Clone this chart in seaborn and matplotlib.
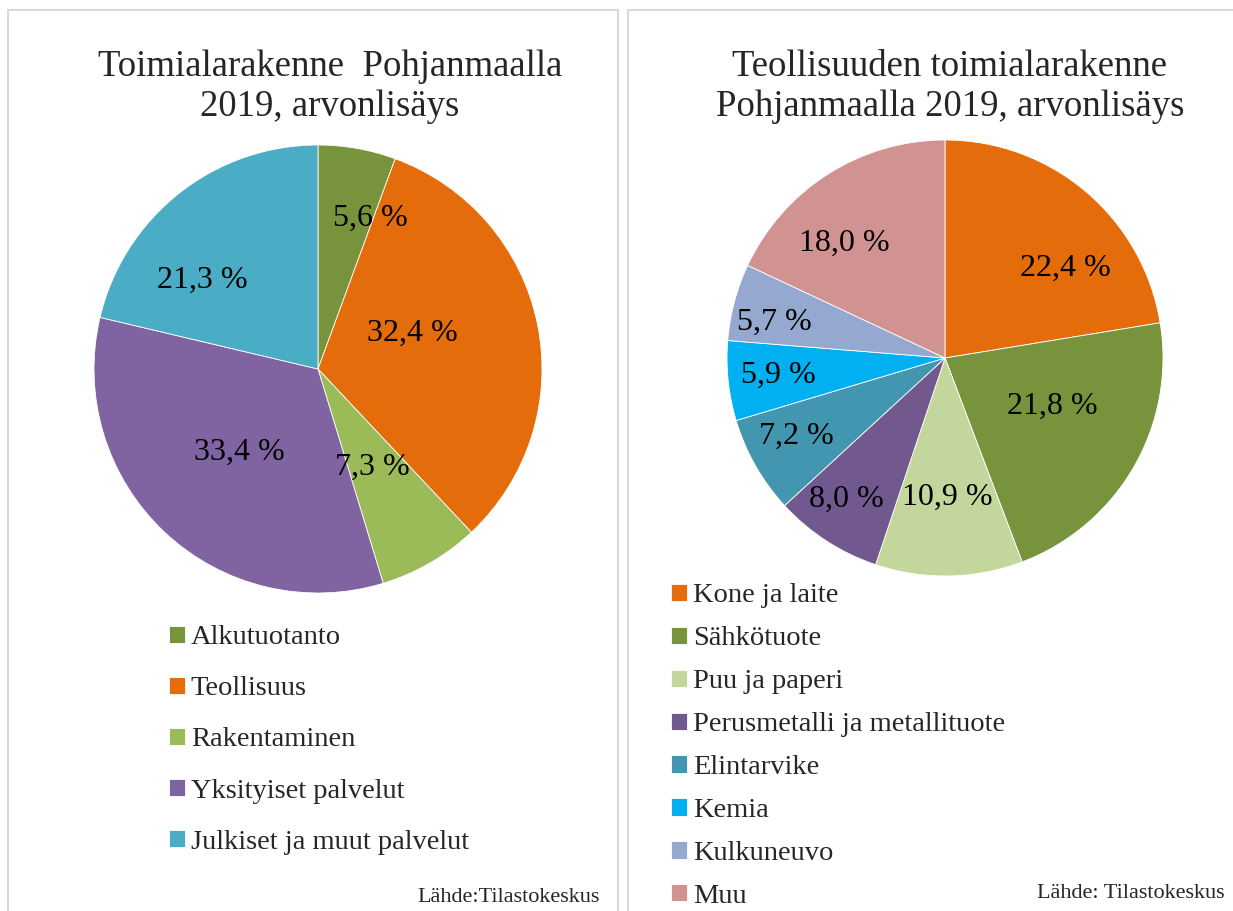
import matplotlib
matplotlib.use("Agg")
import matplotlib.pyplot as plt
import seaborn as sns
import numpy as np
from matplotlib.patches import Rectangle

# Data
left_title = "Toimialarakenne  Pohjanmaalla\n2019, arvonlisäys"
left_labels = ["Alkutuotanto", "Teollisuus", "Rakentaminen",
               "Yksityiset palvelut", "Julkiset ja muut palvelut"]
left_values = [5.6, 32.4, 7.3, 33.4, 21.3]
left_colors = ["#77933C", "#E46C0A", "#9BBB59", "#8064A2", "#4BACC6"]
left_label_r = [0.71, 0.45, 0.50, 0.51, 0.65]
left_label_shift = [-9, 9, -1, 0, 14]

right_title = "Teollisuuden toimialarakenne\nPohjanmaalla 2019, arvonlisäys"
right_labels = ["Kone ja laite", "Sähkötuote", "Puu ja paperi",
                "Perusmetalli ja metallituote", "Elintarvike", "Kemia",
                "Kulkuneuvo", "Muu"]
right_values = [22.4, 21.8, 10.9, 8.0, 7.2, 5.9, 5.7, 18.0]
right_colors = ["#E46C0A", "#77933C", "#C3D69B", "#71588F", "#4396B0",
                "#00B0F0", "#95A9D0", "#D19292"]
right_label_r = [0.69, 0.54, 0.64, 0.79, 0.77, 0.77, 0.80, 0.70]
right_label_shift = [-13, 6, 0, -2, -2, 0, 3, 9]

source = ["Lähde:Tilastokeskus", "Lähde: Tilastokeskus"]

sns.set_theme(style="white")
plt.rcParams['font.family'] = ['Liberation Serif', 'DejaVu Serif']

W, H = 1233, 911
fig = plt.figure(figsize=(W / 100, H / 100), dpi=100)


def px_axes(cx, cy, r):
    return fig.add_axes([(cx - r) / W, 1 - (cy + r) / H, 2 * r / W, 2 * r / H])


def fmt(v):
    return f"{v:.1f} %".replace(".", ",")


def draw_pie(ax, values, colors, label_r, label_shift):
    wedges, _ = ax.pie(values, colors=colors, startangle=90, counterclock=False,
                       wedgeprops={'edgecolor': 'white', 'linewidth': 0.6})
    for w, v, r, s in zip(wedges, values, label_r, label_shift):
        a = np.deg2rad((w.theta1 + w.theta2) / 2 + s)
        ax.text(r * np.cos(a), r * np.sin(a), fmt(v), ha='center', va='center',
                fontsize=23, color='black')
    ax.set_xlim(-1, 1)
    ax.set_ylim(-1, 1)
    ax.axis('off')
    return wedges


# panel frames
for x0, x1 in [(8, 618), (628, 1240)]:
    fig.patches.append(Rectangle((x0 / W, -0.01), (x1 - x0) / W, 1 - 10 / H + 0.01,
                                 transform=fig.transFigure, fill=False,
                                 edgecolor='#d9d9d9', linewidth=1.5))

axl = px_axes(318, 369, 224)
wl = draw_pie(axl, left_values, left_colors, left_label_r, left_label_shift)
axr = px_axes(945, 358, 218)
wr = draw_pie(axr, right_values, right_colors, right_label_r, right_label_shift)

fig.text(330 / W, 1 - 87 / H, left_title, ha='center', va='center',
         fontsize=26.5, linespacing=1.2)
fig.text(950 / W, 1 - 87 / H, right_title, ha='center', va='center',
         fontsize=26.5, linespacing=1.2)

fig.legend(wl, left_labels, loc='upper left', bbox_to_anchor=(158 / W, 1 - 614 / H),
           frameon=False, fontsize=20.5, handlelength=0.55, handleheight=0.55,
           handletextpad=0.2, labelspacing=0.915, borderaxespad=0)
fig.legend(wr, right_labels, loc='upper left', bbox_to_anchor=(660 / W, 1 - 572 / H),
           frameon=False, fontsize=20.5, handlelength=0.55, handleheight=0.55,
           handletextpad=0.2, labelspacing=0.63, borderaxespad=0)

fig.text(600 / W, 1 - 898 / H, source[0], ha='right', va='center', fontsize=16)
fig.text(1225 / W, 1 - 893 / H, source[1], ha='right', va='center', fontsize=16)

fig.savefig("out.png", dpi=100, facecolor='white')
